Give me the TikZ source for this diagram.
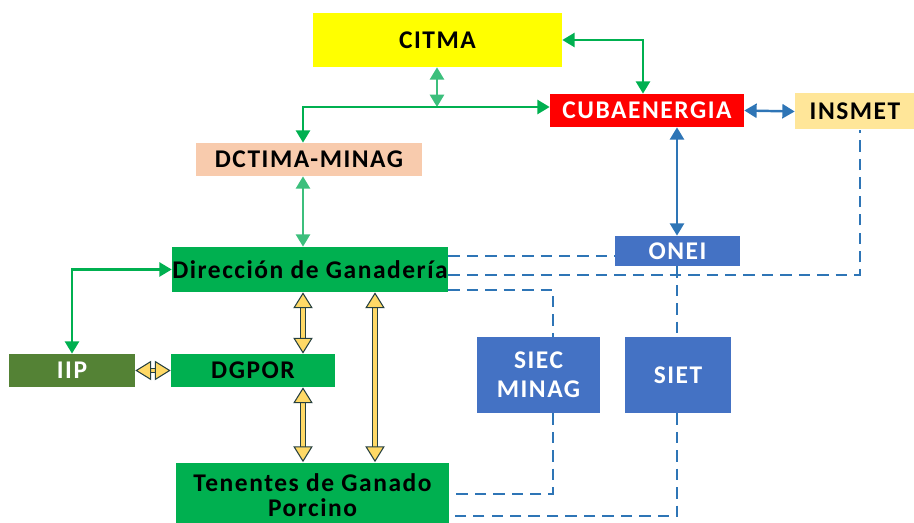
\documentclass[tikz,border=0pt]{standalone}
\usepackage{fontspec}
\setmainfont{Carlito}[LetterSpace=6]
\usetikzlibrary{arrows.meta}
\definecolor{citmayellow}{HTML}{FFFF00}
\definecolor{cubared}{HTML}{FF0000}
\definecolor{insmetyellow}{HTML}{FFE699}
\definecolor{minagpeach}{HTML}{F8CBAD}
\definecolor{boxblue}{HTML}{4472C4}
\definecolor{boxgreen}{HTML}{00B050}
\definecolor{iipgreen}{HTML}{548235}
\definecolor{linegreen}{HTML}{00B050}
\definecolor{lightgreen}{HTML}{3CBF7C}
\definecolor{lineblue}{HTML}{2E75B6}
\definecolor{arrowgold}{HTML}{FFD966}
\definecolor{arrowedge}{HTML}{264040}
\tikzstyle{entity} = [rectangle, inner sep=0pt, align=center, font=\bfseries\fontsize{14.5}{16.5}\selectfont]
\tikzstyle{darkbox} = [entity, text=black]
\tikzstyle{lightbox} = [entity, text=white]
\tikzstyle{garrow} = [draw=linegreen, line width=1.4pt, {Triangle[length=7pt,width=8pt]}-{Triangle[length=7pt,width=8pt]}]
\tikzstyle{lgarrow} = [draw=lightgreen, line width=1.4pt, {Triangle[length=7pt,width=8pt]}-{Triangle[length=7pt,width=8pt]}]
\tikzstyle{barrow} = [draw=lineblue, line width=1.4pt, {Triangle[length=7pt,width=8pt]}-{Triangle[length=7pt,width=8pt]}]
\tikzstyle{yarrow} = [draw=arrowedge, line width=0.6pt, double=arrowgold, double distance=2.2pt, {Triangle[length=9pt,width=11pt,fill=arrowgold]}-{Triangle[length=9pt,width=11pt,fill=arrowgold]}]
\tikzstyle{link} = [draw=lineblue, line width=1.6pt, dash pattern=on 6.5pt off 4pt]

\begin{document}
\begin{tikzpicture}[x=0.02cm, y=-0.02cm]
			\useasboundingbox (0,0) rectangle (914,523);
			% boxes
			\node (citma) [darkbox, fill=citmayellow, minimum width=4.98cm, minimum height=1.08cm] at (437.5,40) {CITMA};
			\node (cuba) [lightbox, fill=cubared, minimum width=3.88cm, minimum height=0.66cm] at (647,110.5) {CUBAENERGIA};
			\node (insmet) [darkbox, fill=insmetyellow, minimum width=2.4cm, minimum height=0.72cm] at (855,111.5) {INSMET};
			\node (dctima) [darkbox, fill=minagpeach, minimum width=4.52cm, minimum height=0.66cm] at (309,159.5) {DCTIMA-MINAG};
			\node (onei) [lightbox, fill=boxblue, minimum width=2.5cm, minimum height=0.6cm] at (677.5,251) {ONEI};
			\node (direccion) [darkbox, fill=boxgreen, minimum width=5.52cm, minimum height=0.9cm] at (310,269.5) {Dirección de Ganadería};
			\node (iip) [lightbox, fill=iipgreen, minimum width=2.52cm, minimum height=0.66cm] at (72,370.5) {IIP};
			\node (dgpor) [darkbox, fill=boxgreen, minimum width=3.28cm, minimum height=0.66cm] at (253,370.5) {DGPOR};
			\node (siec) [lightbox, fill=boxblue, minimum width=2.46cm, minimum height=1.52cm] at (538.5,375) {SIEC\\MINAG};
			\node (siet) [lightbox, fill=boxblue, minimum width=2.12cm, minimum height=1.52cm] at (678,375) {SIET};
			\node (tenentes) [darkbox, fill=boxgreen, minimum width=5.46cm, minimum height=1.3cm, text depth=0pt] at (312.5,495) {Tenentes de Ganado\\[-2pt]Porcino};

			% columns and rows for the lines
			\coordinate (xa) at (303,0);
			\coordinate (xb) at (375,0);
			\coordinate (xc) at (553,0);
			\coordinate (xd) at (677,0);
			\coordinate (xe) at (860,0);
			\coordinate (xf) at (72,0);
			\coordinate (xg) at (643,0);
			\coordinate (xh) at (437,0);
			\coordinate (ya) at (0,256);
			\coordinate (yb) at (0,275);
			\coordinate (yc) at (0,290);
			\coordinate (yd) at (0,494);
			\coordinate (ye) at (0,516);
			\coordinate (yf) at (0,107);

			% green arrows
			\draw [garrow] (citma.east) -| (xg |- cuba.north);
			\draw [lgarrow] (xh |- citma.south) -- (xh |- yf);
			\draw [garrow] (xa |- dctima.north) |- (cuba.west |- yf);
			\draw [lgarrow] (xa |- dctima.south) -- (xa |- direccion.north);
			\draw [garrow] (xf |- iip.north) |- (direccion.west);

			% blue arrows
			\draw [barrow] (cuba.east) -- (insmet.west);
			\draw [barrow] (xd |- cuba.south) -- (xd |- onei.north);

			% dashed links
			\draw [link] (direccion.east |- ya) -- (onei.west |- ya);
			\draw [link] (direccion.east |- yb) -| (xe |- insmet.south);
			\draw [link] (direccion.east |- yc) -| (xc |- siec.north);
			\draw [link] (xc |- siec.south) |- (tenentes.east |- yd);
			\draw [link] (xd |- onei.south) -- (xd |- siet.north);
			\draw [link] (xd |- siet.south) |- (tenentes.east |- ye);

			% yellow arrows
			\draw [yarrow] (xa |- direccion.south) -- (xa |- dgpor.north);
			\draw [yarrow] (xa |- dgpor.south) -- (xa |- tenentes.north);
			\draw [yarrow] (xb |- direccion.south) -- (xb |- tenentes.north);
			\draw [yarrow] (iip.east) -- (dgpor.west);
		\end{tikzpicture}
\end{document}
